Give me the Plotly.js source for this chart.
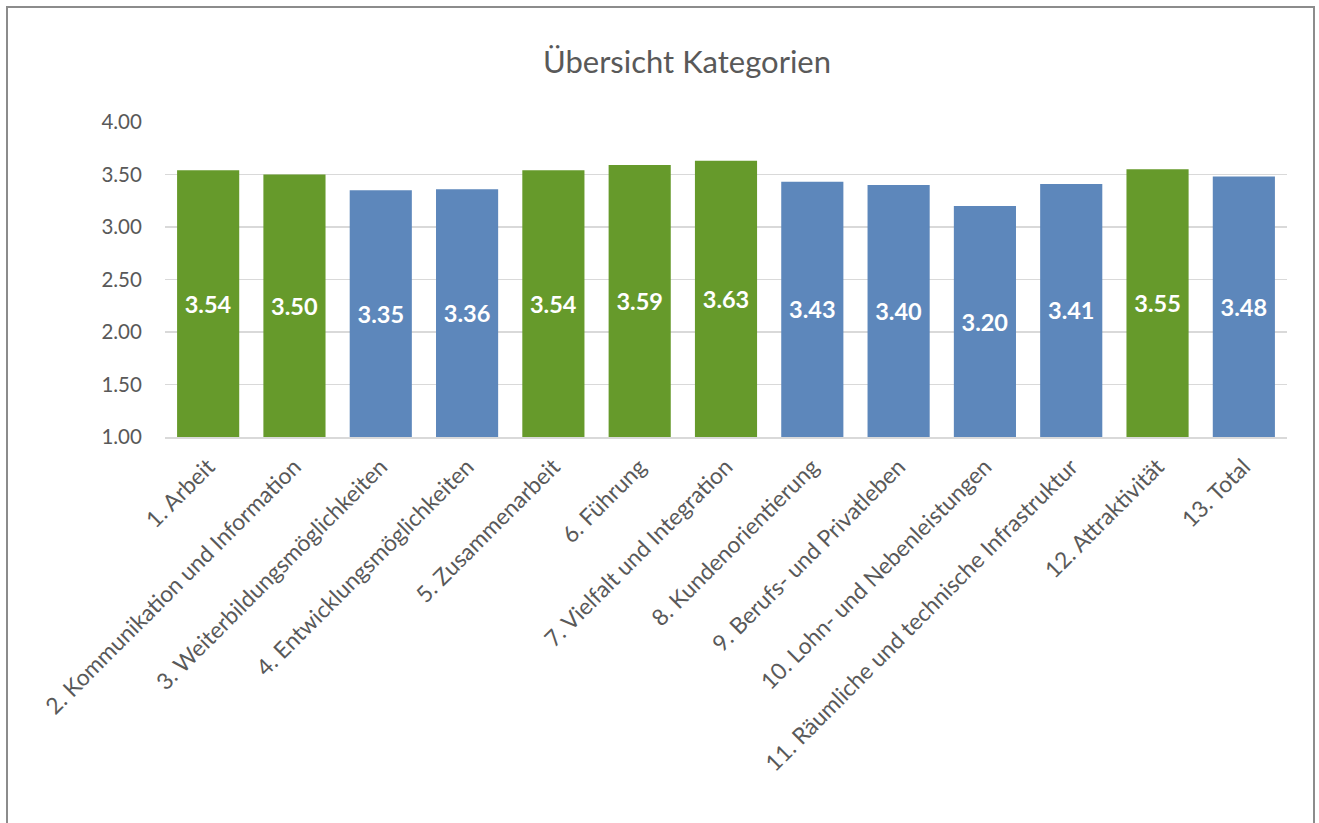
<!DOCTYPE html>
<html>
<head>
<meta charset="utf-8">
<script src="https://cdn.plot.ly/plotly-3.0.1.min.js"></script>
<style>
  html, body { margin: 0; padding: 0; background: #ffffff; }
  #wrap { position: relative; width: 1319px; height: 823px; overflow: hidden; }
  #chart { position: absolute; left: 0; top: 0; width: 1319px; height: 823px; }
  #frame { position: absolute; left: 6px; top: 6px; width: 1309px; height: 830px;
           border: 2px solid #8c8c8c; box-sizing: border-box; pointer-events: none; }
</style>
</head>
<body>
<div id="wrap">
  <div id="chart"></div>
  <div id="frame"></div>
</div>
<script>
const categories = [
  "1. Arbeit",
  "2. Kommunikation und Information",
  "3. Weiterbildungsmöglichkeiten",
  "4. Entwicklungsmöglichkeiten",
  "5. Zusammenarbeit",
  "6. Führung",
  "7. Vielfalt und Integration",
  "8. Kundenorientierung",
  "9. Berufs- und Privatleben",
  "10. Lohn- und Nebenleistungen",
  "11. Räumliche und technische Infrastruktur",
  "12. Attraktivität",
  "13. Total"
];
const values = [3.54, 3.50, 3.35, 3.36, 3.54, 3.59, 3.63, 3.43, 3.40, 3.20, 3.41, 3.55, 3.48];
const highlighted = [true, true, false, false, true, true, true, false, false, false, false, true, false];
const yTickValues = [1.0, 1.5, 2.0, 2.5, 3.0, 3.5, 4.0];

const GREEN = "#669A2B";
const BLUE = "#5D87BB";
const axisMin = 1.0;
const FONT = "Lato, 'Open Sans', sans-serif";

const trace = {
  type: "bar",
  x: categories,
  y: values.map(v => v - axisMin),
  base: axisMin,
  text: values.map(v => v.toFixed(2)),
  textposition: "inside",
  insidetextanchor: "middle",
  textangle: 0,
  constraintext: "none",
  textfont: { family: FONT, size: 23.5, color: "#ffffff", weight: "bold" },
  marker: { color: highlighted.map(h => h ? GREEN : BLUE), line: { width: 0 } },
  hoverinfo: "x+text"
};

const layout = {
  width: 1319,
  height: 823,
  paper_bgcolor: "rgba(0,0,0,0)",
  plot_bgcolor: "#ffffff",
  margin: { l: 165, r: 32, t: 122, b: 386, pad: 0 },
  title: {
    text: "Übersicht Kategorien",
    font: { family: FONT, size: 31, color: "#595959" },
    x: 687 / 1319, xref: "container", xanchor: "center",
    y: 1 - 62 / 823, yanchor: "middle"
  },
  bargap: 0.28,
  showlegend: false,
  xaxis: {
    type: "category",
    tickangle: -45,
    tickfont: { family: FONT, size: 22.8, color: "#595959" },
    showgrid: false,
    showline: true,
    linecolor: "#d9d9d9",
    linewidth: 1.5,
    ticks: "outside",
    ticklen: 6,
    tickcolor: "rgba(0,0,0,0)",
    automargin: false,
    fixedrange: true
  },
  yaxis: {
    range: [1.0, 4.0],
    tickvals: yTickValues,
    ticktext: yTickValues.map(v => v.toFixed(2)),
    tickfont: { family: FONT, size: 20.5, color: "#595959" },
    showgrid: true,
    gridcolor: "#d9d9d9",
    gridwidth: 1.5,
    zeroline: false,
    showline: false,
    ticks: "outside",
    ticklen: 18,
    tickcolor: "rgba(0,0,0,0)",
    automargin: false,
    fixedrange: true
  }
};

Plotly.newPlot("chart", [trace], layout, { displayModeBar: false, staticPlot: true });
</script>
</body>
</html>
